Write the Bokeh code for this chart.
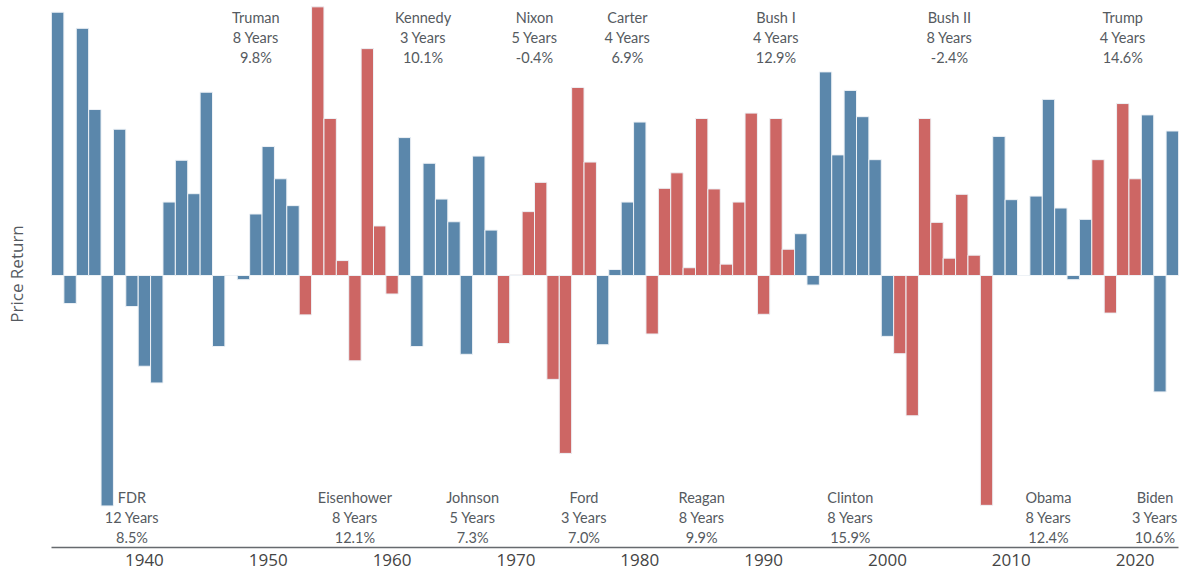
from bokeh.plotting import figure
from bokeh.models import FixedTicker, ColumnDataSource
from bokeh.core.properties import value
from bokeh.embed import file_html
from bokeh.resources import INLINE

# ---- data ----
years = list(range(1933, 2024))
returns = [
    44.1, -4.7, 41.4, 27.8, -38.6, 24.5, -5.2, -15.2, -18.0, 12.3,   # 1933-1942
    19.3, 13.7, 30.7, -11.9, 0.0, -0.7, 10.3, 21.6, 16.2, 11.7,      # 1943-1952
    -6.6, 45.0, 26.3, 2.5, -14.3, 38.0, 8.3, -3.1, 23.1, -11.9,      # 1953-1962
    18.8, 12.8, 9.0, -13.2, 20.0, 7.6, -11.4, 0.1, 10.7, 15.6,       # 1963-1972
    -17.4, -29.8, 31.5, 19.0, -11.6, 1.0, 12.3, 25.7, -9.8, 14.6,    # 1973-1982
    17.2, 1.3, 26.3, 14.5, 1.9, 12.3, 27.2, -6.5, 26.3, 4.4,         # 1983-1992
    7.0, -1.6, 34.1, 20.2, 31.0, 26.6, 19.4, -10.2, -13.1, -23.5,    # 1993-2002
    26.3, 8.9, 2.9, 13.6, 3.4, -38.5, 23.3, 12.7, 0.0, 13.3,         # 2003-2012
    29.5, 11.3, -0.7, 9.4, 19.4, -6.3, 28.8, 16.2, 26.9, -19.5,      # 2013-2022
    24.2,                                                             # 2023
]
presidents = ["FDR", "Truman", "Eisenhower", "Kennedy", "Johnson", "Nixon", "Ford",
              "Carter", "Reagan", "Bush I", "Clinton", "Bush II", "Obama", "Trump", "Biden"]
term_start = [1933, 1945, 1953, 1961, 1964, 1969, 1974, 1977, 1981, 1989, 1993, 2001, 2009, 2017, 2021]
term_years = [12, 8, 8, 3, 5, 5, 3, 4, 8, 4, 8, 8, 8, 4, 3]
avg_return = ["8.5%", "9.8%", "12.1%", "10.1%", "7.3%", "-0.4%", "7.0%", "6.9%", "9.9%",
              "12.9%", "15.9%", "-2.4%", "12.4%", "14.6%", "10.6%"]
party = ["D", "D", "R", "D", "D", "R", "R", "D", "R", "R", "D", "R", "D", "R", "D"]
tick_years = [1940, 1950, 1960, 1970, 1980, 1990, 2000, 2010, 2020]

# ---- styling ----
BLUE = "#5b87ab"
RED = "#cd6664"
TEXT = "#555a60"
LFONT = "Lato"
TFONT = "Open Sans"

X_START, X_END = 1932.5, 2023.5
Y_TOP, Y_BOT = 46.06, -45.56
FRAME_H = 547
EDGE_PAD = 1.9   # keep labels inside the plot frame (in years)

def ypix(fy):
    return Y_TOP - fy * (Y_TOP - Y_BOT) / FRAME_H

# bar colours from terms
color_of = {"D": BLUE, "R": RED}
bar_colors = []
for y in years:
    for s, n, pt in zip(term_start, term_years, party):
        if s <= y < s + n:
            bar_colors.append(color_of[pt])
            break

p = figure(width=1185, height=573, x_range=(X_START, X_END), y_range=(Y_BOT, Y_TOP),
           output_backend="svg", toolbar_location=None,
           min_border_left=51, min_border_right=7, min_border_top=0, min_border_bottom=26)
p.outline_line_color = None
p.grid.visible = False
p.background_fill_color = "white"

src = ColumnDataSource(dict(x=years, top=returns, color=bar_colors))
p.vbar(x="x", top="top", bottom=0, width=1.0, fill_color="color",
       line_color="#eef2f6", line_width=1, source=src)

# president labels
lx, ly_name, ly_years, ly_pct, names, yrs, pcts = [], [], [], [], [], [], []
for i, (nm, s, n, a) in enumerate(zip(presidents, term_start, term_years, avg_return)):
    x = min(s + n / 2, X_END - EDGE_PAD)
    if i % 2 == 1:
        rows = (17, 37, 57)
    else:
        rows = (496.5, 516.5, 536.5)
    lx.append(x)
    ly_name.append(ypix(rows[0]))
    ly_years.append(ypix(rows[1]))
    ly_pct.append(ypix(rows[2]))
    names.append(nm)
    yrs.append(f"{n} Years")
    pcts.append(a)

for ys, txt in ((ly_name, names), (ly_years, yrs), (ly_pct, pcts)):
    p.text(x=lx, y=ys, text=txt, text_align="center", text_baseline="middle",
           text_font=value(LFONT), text_font_size="14.5px", text_color=TEXT)

# axes
xa = p.xaxis[0]
xa.ticker = FixedTicker(ticks=tick_years)
xa.axis_line_color = "#666a6e"
xa.axis_line_width = 1.5
xa.major_tick_line_color = None
xa.minor_tick_line_color = None
xa.major_tick_out = 0
xa.major_tick_in = 0
xa.major_label_standoff = 6
xa.major_label_text_font = TFONT
xa.major_label_text_font_size = "17px"
xa.major_label_text_color = "#444"

ya = p.yaxis[0]
ya.ticker = FixedTicker(ticks=[])
ya.axis_line_color = None
ya.major_tick_line_color = None
ya.minor_tick_line_color = None
ya.major_tick_out = 0
ya.major_tick_in = 0
ya.major_label_standoff = 0
ya.axis_label = "Price Return"
ya.axis_label_text_font = TFONT
ya.axis_label_text_font_style = "normal"
ya.axis_label_text_font_size = "17px"
ya.axis_label_text_color = TEXT
ya.axis_label_standoff = 24

open("out.html", "w").write(file_html(p, INLINE))
